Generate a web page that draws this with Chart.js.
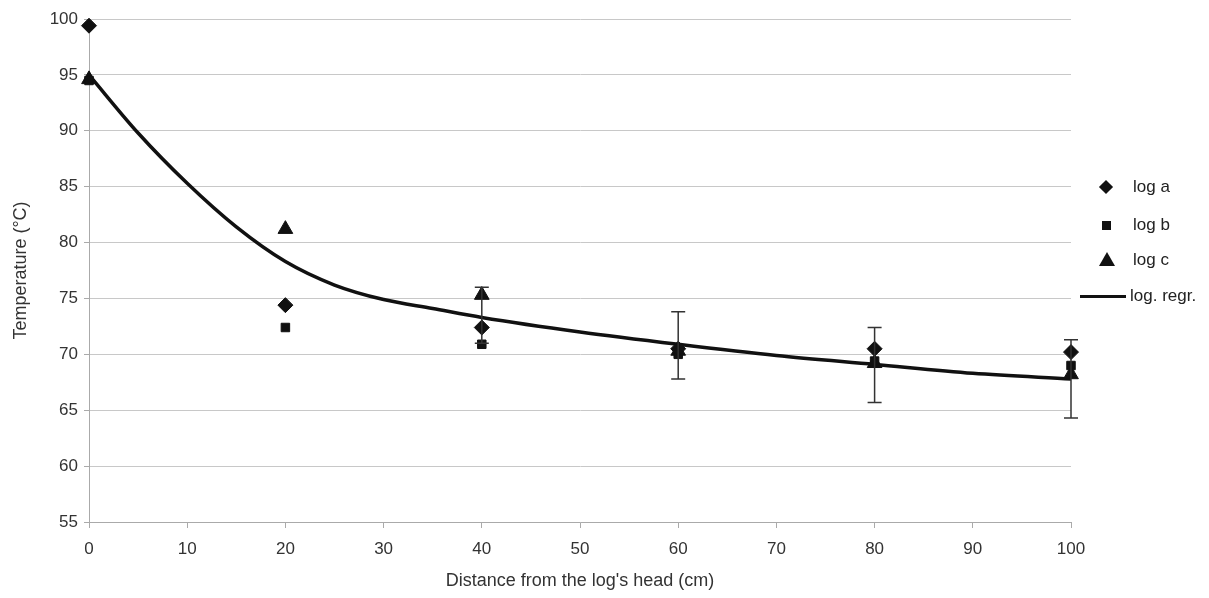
<!DOCTYPE html>
<html>
<head>
<meta charset="utf-8">
<title>Temperature along the log</title>
<script src="https://cdn.jsdelivr.net/npm/chart.js@4"></script>
<style>
    html, body { margin: 0; padding: 0; background: #fff; }
    #wrap { position: relative; width: 1209px; height: 598px; }
    #legend { position: absolute; left: 0; top: 0; font-family: "Liberation Sans", Arial, sans-serif; font-size: 17px; color: #222; }
    .item { position: absolute; height: 20px; line-height: 20px; white-space: nowrap; }
    .mk { position: absolute; background: #111; }
</style>
</head>
<body>
<div id="wrap">
    <canvas id="chart" width="1209" height="598"></canvas>
    <div id="legend">
        <div class="item" style="left:1133px; top:177px;">log a</div>
        <div class="mk" style="left:1101px; top:182px; width:10px; height:10px; transform:rotate(45deg);"></div>
        <div class="item" style="left:1133px; top:215px;">log b</div>
        <div class="mk" style="left:1102px; top:221px; width:9px; height:9px;"></div>
        <div class="item" style="left:1133px; top:250px;">log c</div>
        <div class="mk" style="left:1099px; top:252px; width:0; height:0; background:none; border-left:8px solid transparent; border-right:8px solid transparent; border-bottom:14px solid #111;"></div>
        <div class="item" style="left:1130px; top:286px;">log. regr.</div>
        <div class="mk" style="left:1080px; top:295px; width:46px; height:3px;"></div>
    </div>
</div>
<script>
// Data
const distances = [0, 20, 40, 60, 80, 100];
const logA = [99.4, 74.4, 72.4, 70.5, 70.5, 70.2];
const logB = [94.5, 72.4, 70.9, 70.0, 69.4, 69.0];
const logC = [94.6, 81.2, 75.3, 70.3, 69.2, 68.2];

// error bars (null = none drawn)
const errLow = [null, null, 71.0, 67.8, 65.7, 64.3];
const errHigh = [null, null, 76.0, 73.8, 72.4, 71.3];

// regression curve
const regrX = [0, 5, 10, 15, 20, 25, 30, 35, 40, 50, 60, 70, 80, 90, 100];
const regrY = [95.0, 89.8, 85.3, 81.4, 78.3, 76.2, 74.9, 74.1, 73.3, 72.0, 70.9, 69.9, 69.1, 68.3, 67.8];

const xTicks = [0, 10, 20, 30, 40, 50, 60, 70, 80, 90, 100];

const FONT = '"Liberation Sans", Arial, sans-serif';

function pairs(xs, ys) {
    return xs.map((x, i) => ({ x: x, y: ys[i] }));
}

// Error bar plugin
const errorBars = {
    id: 'errorBars',
    afterDatasetsDraw(chart) {
        const ctx = chart.ctx;
        const xs = chart.scales.x;
        const ys = chart.scales.y;
        ctx.save();
        ctx.strokeStyle = '#333';
        ctx.lineWidth = 1.5;
        distances.forEach((d, i) => {
            if (errLow[i] == null) return;
            const px = xs.getPixelForValue(d);
            const lo = ys.getPixelForValue(errLow[i]);
            const hi = ys.getPixelForValue(errHigh[i]);
            ctx.beginPath();
            ctx.moveTo(px, lo); ctx.lineTo(px, hi);
            ctx.moveTo(px - 7, lo); ctx.lineTo(px + 7, lo);
            ctx.moveTo(px - 7, hi); ctx.lineTo(px + 7, hi);
            ctx.stroke();
        });
        ctx.restore();
    }
};

const ctx = document.getElementById('chart').getContext('2d');
new Chart(ctx, {
    type: 'scatter',
    data: {
        datasets: [{
            label: 'log a',
            data: pairs(distances, logA),
            pointStyle: 'rectRot',
            pointRadius: 7.5,
            backgroundColor: '#111',
            borderColor: '#111',
            clip: false,
            order: 1
        }, {
            label: 'log b',
            data: pairs(distances, logB),
            pointStyle: 'rect',
            pointRadius: 6,
            backgroundColor: '#111',
            borderColor: '#111',
            clip: false,
            order: 2
        }, {
            label: 'log c',
            data: pairs(distances, logC),
            pointStyle: 'triangle',
            pointRadius: 8.5,
            backgroundColor: '#111',
            borderColor: '#111',
            clip: false,
            order: 3
        }, {
            label: 'log. regr.',
            type: 'line',
            data: pairs(regrX, regrY),
            borderColor: '#111',
            borderWidth: 3.5,
            pointRadius: 0,
            cubicInterpolationMode: 'monotone',
            fill: false,
            clip: false,
            order: 10
        }]
    },
    options: {
        responsive: false,
        animation: false,
        layout: { padding: { top: 19, right: 138, left: 0, bottom: 0 } },
        plugins: {
            legend: { display: false },
            tooltip: { enabled: false }
        },
        scales: {
            x: {
                type: 'linear',
                min: 0,
                max: 100,
                afterBuildTicks: (scale) => { scale.ticks = xTicks.map(v => ({ value: v })); },
                afterFit: (scale) => { scale.height = 76; },
                ticks: { color: '#333', font: { family: FONT, size: 17 }, padding: 11 },
                grid: { drawOnChartArea: false, tickLength: 6, tickColor: '#aaa' },
                border: { color: '#aaa', width: 1 },
                title: { display: true, text: "Distance from the log's head (cm)", color: '#333', font: { family: FONT, size: 18 }, padding: { top: 4, bottom: 6 } }
            },
            y: {
                min: 55,
                max: 100,
                ticks: { stepSize: 5, color: '#333', font: { family: FONT, size: 17 }, padding: 6 },
                afterFit: (scale) => { scale.width = 89; },
                grid: { color: '#c8c8c8', lineWidth: 1, tickLength: 5, tickColor: '#aaa' },
                border: { color: '#aaa', width: 1 },
                title: { display: true, text: 'Temperature (°C)', color: '#333', font: { family: FONT, size: 18 }, padding: { top: 10, bottom: 4 } }
            }
        }
    },
    plugins: [errorBars]
});
</script>
</body>
</html>
